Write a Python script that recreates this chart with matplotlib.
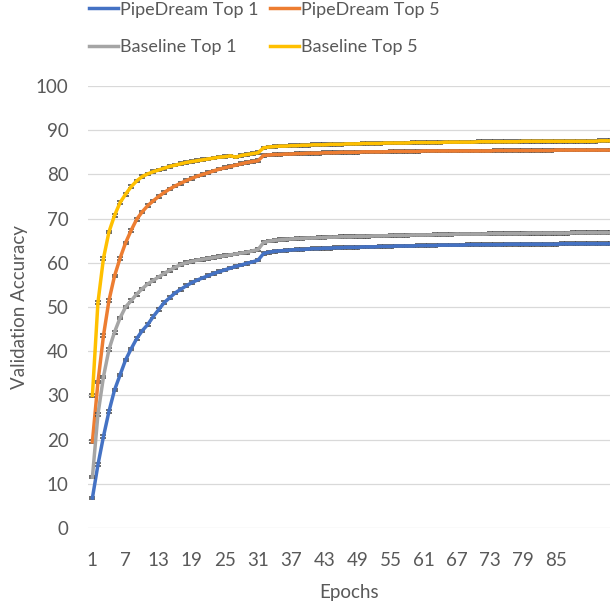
import matplotlib.pyplot as plt

# data
epochs = list(range(1, 96))

pipedream_top1 = [
    6.8, 14.3, 20.7, 26.4, 31.2, 34.6, 38.0, 40.5, 42.8, 44.6,
    46.0, 47.8, 49.4, 51.0, 52.1, 53.2, 54.0, 54.8, 55.5, 56.1,
    56.6, 57.1, 57.6, 58.0, 58.4, 58.8, 59.2, 59.5, 59.9, 60.2,
    60.6, 62.1, 62.4, 62.6, 62.7, 62.8, 62.9, 63.0, 63.0, 63.1,
    63.2, 63.2, 63.3, 63.3, 63.4, 63.4, 63.5, 63.5, 63.5, 63.6,
    63.6, 63.6, 63.7, 63.7, 63.7, 63.8, 63.8, 63.8, 63.8, 63.9,
    63.9, 63.9, 63.9, 64.0, 64.0, 64.0, 64.0, 64.0, 64.1, 64.1,
    64.1, 64.1, 64.1, 64.1, 64.1, 64.2, 64.2, 64.2, 64.2, 64.2,
    64.2, 64.2, 64.2, 64.2, 64.2, 64.3, 64.3, 64.3, 64.3, 64.3,
    64.3, 64.3, 64.3, 64.3, 64.3,
]
pipedream_top5 = [
    19.5, 33.0, 43.5, 51.5, 57.0, 61.0, 64.5, 67.3, 69.8, 71.5,
    72.9, 74.0, 75.0, 75.9, 76.7, 77.4, 78.0, 78.6, 79.1, 79.6,
    80.0, 80.4, 80.8, 81.2, 81.5, 81.8, 82.1, 82.4, 82.7, 82.9,
    83.1, 84.3, 84.4, 84.5, 84.5, 84.6, 84.6, 84.7, 84.7, 84.8,
    84.8, 84.8, 84.9, 84.9, 84.9, 85.0, 85.0, 85.0, 85.0, 85.1,
    85.1, 85.1, 85.1, 85.1, 85.2, 85.2, 85.2, 85.2, 85.2, 85.2,
    85.3, 85.3, 85.3, 85.3, 85.3, 85.3, 85.3, 85.3, 85.3, 85.3,
    85.3, 85.3, 85.3, 85.4, 85.4, 85.4, 85.4, 85.4, 85.4, 85.4,
    85.4, 85.4, 85.4, 85.4, 85.5, 85.5, 85.5, 85.5, 85.5, 85.5,
    85.5, 85.5, 85.5, 85.5, 85.5,
]
baseline_top1 = [
    11.5, 25.7, 34.2, 40.4, 44.3, 47.5, 50.0, 51.4, 52.9, 54.1,
    55.2, 56.0, 56.8, 57.6, 58.3, 59.0, 59.6, 60.0, 60.3, 60.6,
    60.8, 61.0, 61.2, 61.4, 61.6, 61.8, 62.0, 62.2, 62.4, 62.7,
    63.0, 64.6, 64.9, 65.1, 65.2, 65.3, 65.4, 65.5, 65.5, 65.6,
    65.6, 65.7, 65.7, 65.8, 65.8, 65.9, 65.9, 65.9, 66.0, 66.0,
    66.0, 66.1, 66.1, 66.1, 66.2, 66.2, 66.2, 66.2, 66.3, 66.3,
    66.3, 66.3, 66.4, 66.4, 66.4, 66.4, 66.5, 66.5, 66.5, 66.5,
    66.5, 66.5, 66.6, 66.6, 66.6, 66.6, 66.6, 66.6, 66.6, 66.7,
    66.7, 66.7, 66.7, 66.7, 66.7, 66.7, 66.7, 66.8, 66.8, 66.8,
    66.8, 66.8, 66.8, 66.8, 66.8,
]
baseline_top5 = [
    30.0, 51.0, 61.0, 67.0, 70.7, 73.6, 75.5, 77.2, 78.5, 79.5,
    80.1, 80.6, 81.0, 81.4, 81.8, 82.1, 82.4, 82.7, 82.9, 83.1,
    83.3, 83.5, 83.7, 83.9, 84.0, 84.2, 83.9, 84.3, 84.5, 84.7,
    84.9, 86.0, 86.2, 86.3, 86.4, 86.4, 86.5, 86.5, 86.6, 86.6,
    86.7, 86.7, 86.7, 86.8, 86.8, 86.8, 86.9, 86.9, 86.9, 87.0,
    87.0, 87.0, 87.0, 87.1, 87.1, 87.1, 87.1, 87.1, 87.2, 87.2,
    87.2, 87.2, 87.2, 87.2, 87.3, 87.3, 87.3, 87.3, 87.3, 87.3,
    87.4, 87.4, 87.4, 87.4, 87.4, 87.4, 87.4, 87.4, 87.5, 87.5,
    87.5, 87.5, 87.5, 87.5, 87.5, 87.5, 87.5, 87.5, 87.5, 87.5,
    87.5, 87.5, 87.6, 87.6, 87.6,
]
err = 0.3

series = [
    ("PipeDream Top 1", pipedream_top1, "#4472C4"),
    ("PipeDream Top 5", pipedream_top5, "#ED7D31"),
    ("Baseline Top 1", baseline_top1, "#A5A5A5"),
    ("Baseline Top 5", baseline_top5, "#FFC000"),
]

plt.rcParams["font.family"] = ["Lato", "DejaVu Sans"]
text_color = "#595959"

fig = plt.figure(figsize=(6.1, 6.09), dpi=100)
ax = fig.add_axes([88 / 610, 81 / 609, 522 / 610, 442 / 609])

handles = {}
for i, (name, vals, col) in enumerate(series):
    ax.errorbar(epochs, vals, yerr=err, fmt="none", ecolor="#454545",
                elinewidth=1, capsize=2.5, capthick=1.1, zorder=2 + 2 * i)
    line, = ax.plot(epochs, vals, color=col, lw=2.5, label=name, zorder=3 + 2 * i)
    handles[name] = line

ax.set_xlim(0.2, 94.75)
ax.set_ylim(0, 100)
ax.set_yticks(range(0, 101, 10))
ax.set_xticks(range(1, 90, 6))
ax.grid(axis="y", color="#D9D9D9", lw=0.9)
ax.set_axisbelow(True)
for s in ax.spines.values():
    s.set_visible(False)
ax.tick_params(length=0, labelsize=13.5, colors=text_color)
ax.tick_params(axis="y", pad=14)
ax.tick_params(axis="x", pad=17)

ax.set_xlabel("Epochs", fontsize=13.5, color=text_color)
ax.set_ylabel("Validation Accuracy", fontsize=13.5, color=text_color)
ax.xaxis.set_label_coords(0.5, -0.126)
ax.yaxis.set_label_coords(-0.115, 0.5)

order = ["PipeDream Top 1", "Baseline Top 1", "PipeDream Top 5", "Baseline Top 5"]
leg = fig.legend([handles[n] for n in order], order, ncol=2, frameon=False,
                 loc="upper left", bbox_to_anchor=(87 / 610, 1.0),
                 fontsize=13, handlelength=1.6, handletextpad=0.15,
                 columnspacing=0.6, labelspacing=1.2, borderaxespad=0,
                 borderpad=0.1)
for t in leg.get_texts():
    t.set_color(text_color)

fig.savefig("out.png", dpi=100)
